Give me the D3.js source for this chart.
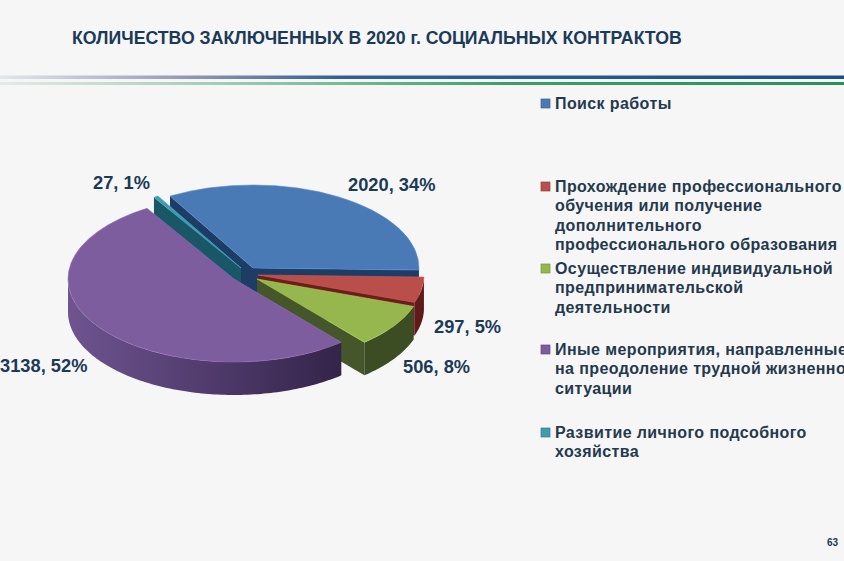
<!DOCTYPE html>
<html>
<head>
<meta charset="utf-8">
<script src="https://cdn.jsdelivr.net/npm/d3@7"></script>
<style>
html, body { margin: 0; padding: 0; background: #f6f6f6; overflow: hidden; }
text { font-family: "Liberation Sans", Arial, sans-serif; font-weight: bold; }
</style>
</head>
<body>
<svg id="chart" width="844" height="561"></svg>
<script>
const titleText = 'КОЛИЧЕСТВО ЗАКЛЮЧЕННЫХ В 2020 г. СОЦИАЛЬНЫХ КОНТРАКТОВ'
const pageNumber = '63'

const categories = [
  ['Поиск работы'],
  ['Прохождение профессионального', 'обучения или получение', 'дополнительного', 'профессионального образования'],
  ['Осуществление индивидуальной', 'предпринимательской', 'деятельности'],
  ['Иные мероприятия, направленные', 'на преодоление трудной жизненной', 'ситуации'],
  ['Развитие личного подсобного', 'хозяйства']
]
const values = [2020, 297, 506, 3138, 27]
const percents = [34, 5, 8, 52, 1]

// colours: top face, cut wall, outer wall left/right
const topColors = ['#4a7ab6', '#b94e4a', '#95b74d', '#7e5d9f', '#3f9bae']
const cutColors = ['#1d3c66', '#6b1d1a', '#44562a', '#3d2c55', '#1a5766']
const wallLeft = ['#2c4f80', '#7c2320', '#4d6130', '#6f5490', '#1f6675']
const wallRight = ['#2c4f80', '#5f1b19', '#3c4d24', '#33244a', '#1f6675']

// exploded slice centres
const centers = [[253, 268], [258, 275], [257, 279], [234, 279], [241, 268]]
const labelPos = [[348, 191], [434, 333], [403, 373], [0, 372], [93, 189]]
const legendY = [109, 192, 274, 355, 438]
const lineH = 19.3

const rx = 166, ry = 83, depth = 33
const rad = Math.PI / 180

const svg = d3.select('#chart')
const defs = svg.append('defs')

const pie = d3.pie().sort(null)
  .startAngle(-30 * rad)
  .endAngle(330 * rad)
const arcs = pie(values)

const arc = d3.arc().innerRadius(0).outerRadius(rx)

// point on slice rim in screen coords
function rim(i, a, r) {
  const c = centers[i]
  return [c[0] + r * rx * Math.sin(a), c[1] - r * ry * Math.cos(a)]
}

function cutWall(i, a) {
  const t = rim(i, a, 0), o = rim(i, a, 1)
  return d3.line()([t, o, [o[0], o[1] + depth], [t[0], t[1] + depth]])
}

function outerWall(i, a0, a1) {
  const angles = d3.range(a0, a1, 0.02).concat([a1])
  const top = angles.map(a => rim(i, a, 1))
  const bottom = top.map(p => [p[0], p[1] + depth]).reverse()
  return d3.line()(top.concat(bottom))
}

// background lines
const lineBlue = defs.append('linearGradient').attr('id', 'lineBlue')
lineBlue.append('stop').attr('offset', 0).attr('stop-color', '#e4e6ec')
lineBlue.append('stop').attr('offset', 0.2).attr('stop-color', '#9d9fbd')
lineBlue.append('stop').attr('offset', 0.4).attr('stop-color', '#2f6293')
lineBlue.append('stop').attr('offset', 1).attr('stop-color', '#1c4f86')
const lineGreen = defs.append('linearGradient').attr('id', 'lineGreen')
lineGreen.append('stop').attr('offset', 0).attr('stop-color', '#e3ebe6')
lineGreen.append('stop').attr('offset', 0.25).attr('stop-color', '#a6cdb5')
lineGreen.append('stop').attr('offset', 0.6).attr('stop-color', '#3f9e68')
lineGreen.append('stop').attr('offset', 1).attr('stop-color', '#2b9057')

svg.append('rect').attr('x', 0).attr('y', 84).attr('width', 844).attr('height', 1).attr('fill', '#e6fbf2')
svg.append('rect').attr('x', 0).attr('y', 75.5).attr('width', 844).attr('height', 3.5).attr('fill', 'url(#lineBlue)')
svg.append('rect').attr('x', 0).attr('y', 82).attr('width', 844).attr('height', 3).attr('fill', 'url(#lineGreen)')

svg.append('text')
  .attr('x', 72).attr('y', 43.5)
  .attr('font-size', 17.7).attr('fill', '#1b3a57')
  .text(titleText)

// pie, back to front
const drawOrder = [0, 4, 1, 2, 3]
const pieG = svg.append('g')

drawOrder.forEach(i => {
  const d = arcs[i]
  const id = 'wall' + i
  const g = defs.append('linearGradient').attr('id', id)
    .attr('gradientUnits', 'userSpaceOnUse')
    .attr('x1', centers[i][0] - rx).attr('x2', centers[i][0] + rx * 0.65)
    .attr('y1', 0).attr('y2', 0)
  g.append('stop').attr('offset', 0).attr('stop-color', wallLeft[i])
  g.append('stop').attr('offset', 1).attr('stop-color', wallRight[i])

  // cut faces are only visible when they turn toward the viewer
  if (Math.sin(d.startAngle) < 0) {
    pieG.append('path').attr('d', cutWall(i, d.startAngle)).attr('fill', cutColors[i])
  }
  if (Math.sin(d.endAngle) > 0) {
    pieG.append('path').attr('d', cutWall(i, d.endAngle)).attr('fill', cutColors[i])
  }

  // front part of the rim
  const a0 = Math.max(d.startAngle, Math.PI / 2)
  const a1 = Math.min(d.endAngle, Math.PI * 1.5)
  if (a1 > a0) {
    pieG.append('path').attr('d', outerWall(i, a0, a1)).attr('fill', 'url(#' + id + ')')
  }

  pieG.append('path')
    .attr('d', arc(d))
    .attr('transform', `translate(${centers[i][0]},${centers[i][1]}) scale(1,${ry / rx})`)
    .attr('fill', topColors[i])
    .attr('stroke', d3.color(topColors[i]).brighter(0.4))
    .attr('stroke-width', 0.8)
})

// data labels
svg.append('g').selectAll('text')
  .data(values)
  .join('text')
  .attr('x', (d, i) => labelPos[i][0])
  .attr('y', (d, i) => labelPos[i][1])
  .attr('font-size', 18.3).attr('fill', '#1b3a57')
  .text((d, i) => `${d}, ${percents[i]}%`)

// legend
const legend = svg.append('g')
categories.forEach((lines, i) => {
  legend.append('rect')
    .attr('x', 541).attr('y', legendY[i] - 10)
    .attr('width', 9).attr('height', 9)
    .attr('fill', topColors[i])
    .attr('stroke', d3.color(topColors[i]).darker(0.6))
    .attr('stroke-width', 0.7)
  lines.forEach((t, j) => {
    legend.append('text')
      .attr('x', 555).attr('y', legendY[i] + j * lineH)
      .attr('font-size', 16).attr('letter-spacing', 0.4)
      .attr('fill', '#24394d')
      .text(t)
  })
})

svg.append('text')
  .attr('x', 827).attr('y', 546)
  .attr('font-size', 10).attr('fill', '#1b3a57')
  .text(pageNumber)
</script>
</body>
</html>
